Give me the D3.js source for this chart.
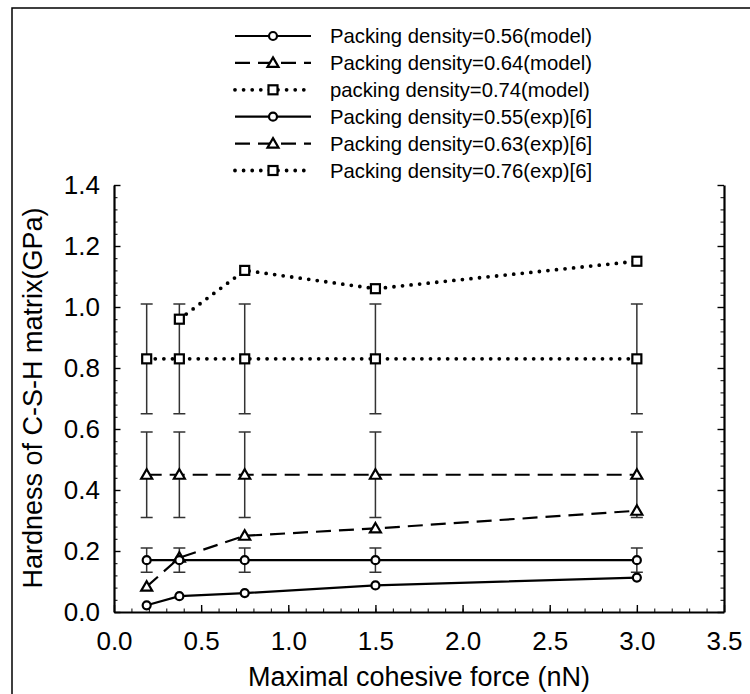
<!DOCTYPE html>
<html><head><meta charset="utf-8">
<script src="https://cdn.jsdelivr.net/npm/d3@7"></script>
<style>body{margin:0;background:#fff}svg{display:block}text{font-family:"Liberation Sans",Arial,sans-serif;fill:#000}</style>
</head><body><svg id="c" width="750" height="694"></svg>
<script>
const forces = [0.1875, 0.375, 0.75, 1.5, 3.0];
const forces074 = [0.375, 0.75, 1.5, 3.0];
const model056 = [0.022, 0.052, 0.062, 0.087, 0.113];
const model064 = [0.083, 0.178, 0.25, 0.274, 0.332];
const model074 = [0.96, 1.12, 1.06, 1.15];
const exp055 = [0.17, 0.17, 0.17, 0.17, 0.17];
const exp063 = [0.45, 0.45, 0.45, 0.45, 0.45];
const exp076 = [0.83, 0.83, 0.83, 0.83, 0.83];
const err055 = 0.04, err063 = 0.14, err076 = 0.18;
const xTicks = [0, 0.5, 1.0, 1.5, 2.0, 2.5, 3.0, 3.5];
const yTicks = [0, 0.2, 0.4, 0.6, 0.8, 1.0, 1.2, 1.4];
const legendLabels = ["Packing density=0.56(model)","Packing density=0.64(model)","packing density=0.74(model)","Packing density=0.55(exp)[6]","Packing density=0.63(exp)[6]","Packing density=0.76(exp)[6]"];

const svg = d3.select("#c");
const x = d3.scaleLinear([0, 3.5], [114, 724]);
const y = d3.scaleLinear([0, 1.4], [612, 185]);

// outer frame
svg.append("path").attr("d","M12,760V8H760").attr("fill","none").attr("stroke","#000").attr("stroke-width",1.5);

const styles = {
  solid:{dash:null,w:2.2,cap:"butt"},
  dashed:{dash:"15,8",w:2.2,cap:"butt"},
  dotted:{dash:"0,8.6",w:3.8,cap:"round"}
};
const series = [
  {xs:forces, ys:model056, st:"solid", mk:"circle"},
  {xs:forces, ys:model064, st:"dashed", mk:"triangle"},
  {xs:forces074, ys:model074, st:"dotted", mk:"square"},
  {xs:forces, ys:exp055, st:"solid", mk:"circle", err:err055},
  {xs:forces, ys:exp063, st:"dashed", mk:"triangle", err:err063},
  {xs:forces, ys:exp076, st:"dotted", mk:"square", err:err076}
];

// axes
const gA = svg.append("g");
function axisStyle(g){g.select(".domain").attr("stroke","#000").attr("stroke-width",2.2);g.selectAll(".tick line").attr("stroke","#000").attr("stroke-width",1.4);g.selectAll("text").style("font-size","26px").attr("fill","#000");}
const yMinor = d3.range(0, 1.4001, 0.04).map(v=>+v.toFixed(2));
const xMinor = d3.range(0, 3.5001, 0.1).map(v=>+v.toFixed(2));
gA.append("g").attr("transform","translate(114,0)").call(d3.axisLeft(y).tickValues(yMinor).tickSize(-3.5).tickFormat("")).call(g=>{g.select(".domain").remove();g.selectAll("line").attr("stroke","#000");});
gA.append("g").attr("transform","translate(724,0)").call(d3.axisRight(y).tickValues(yMinor).tickSize(-3.5).tickFormat("")).call(g=>{g.select(".domain").remove();g.selectAll("line").attr("stroke","#000");});
gA.append("g").attr("transform","translate(0,612)").call(d3.axisBottom(x).tickValues(xMinor).tickSize(-3.5).tickFormat("")).call(g=>{g.select(".domain").remove();g.selectAll("line").attr("stroke","#000");});
gA.append("g").attr("transform","translate(114,0)").call(d3.axisLeft(y).tickValues(yTicks).tickSize(-6.5).tickSizeOuter(0).tickPadding(14).tickFormat(d3.format(".1f"))).call(axisStyle);
gA.append("g").attr("transform","translate(724,0)").call(d3.axisRight(y).tickValues(yTicks).tickSize(-6.5).tickSizeOuter(0).tickFormat("")).call(axisStyle);
gA.append("g").attr("transform","translate(0,612)").call(d3.axisBottom(x).tickValues(xTicks).tickSize(-7).tickSizeOuter(0).tickPadding(20).tickFormat(d3.format(".1f"))).call(axisStyle);

svg.append("text").attr("x",419).attr("y",686).attr("text-anchor","middle").style("font-size","27px").text("Maximal cohesive force (nN)");
svg.append("text").attr("transform","translate(42,398) rotate(-90)").attr("text-anchor","middle").style("font-size","27px").text("Hardness of C-S-H matrix(GPa)");

// error bars
const gE = svg.append("g");
series.filter(s=>s.err).forEach(s=>{
  s.xs.forEach((xv,i)=>{
    const cx=x(xv), lo=y(s.ys[i]-s.err), hi=y(s.ys[i]+s.err);
    gE.append("path").attr("d",`M${cx},${lo}V${hi}M${cx-6},${lo}H${cx+6}M${cx-6},${hi}H${cx+6}`).attr("stroke","#333").attr("stroke-width",1.5).attr("fill","none");
  });
});

// lines
const line = d3.line().x(d=>x(d[0])).y(d=>y(d[1]));
series.forEach(s=>{
  const st=styles[s.st];
  svg.append("path").attr("d",line(s.xs.map((v,i)=>[v,s.ys[i]]))).attr("fill","none").attr("stroke","#000")
    .attr("stroke-width",st.w).attr("stroke-dasharray",st.dash).attr("stroke-linecap",st.cap);
});

// markers
function marker(g,mk,cx,cy){
  if(mk==="circle") g.append("circle").attr("cx",cx).attr("cy",cy).attr("r",4).attr("fill","#fff").attr("stroke","#000").attr("stroke-width",2.2);
  else if(mk==="square") g.append("rect").attr("x",cx-4.5).attr("y",cy-4.5).attr("width",9).attr("height",9).attr("fill","#fff").attr("stroke","#000").attr("stroke-width",2.2);
  else g.append("path").attr("d",`M${cx},${cy-5.5}L${cx+5.5},${cy+4}L${cx-5.5},${cy+4}Z`).attr("fill","#fff").attr("stroke","#000").attr("stroke-width",2.2);
}
const gM = svg.append("g");
series.forEach(s=>s.xs.forEach((xv,i)=>marker(gM,s.mk,x(xv),y(s.ys[i]))));

// legend
const gL = svg.append("g");
series.forEach((s,i)=>{
  const ly = 36 + i*26.9, st=styles[s.st];
  gL.append("line").attr("x1",235).attr("x2",311).attr("y1",ly).attr("y2",ly).attr("stroke","#000")
    .attr("stroke-width",st.w).attr("stroke-dasharray",st.dash).attr("stroke-linecap",st.cap);
  marker(gL,s.mk,273,ly);
  gL.append("text").attr("x",330).attr("y",ly).attr("dy","0.35em").style("font-size","20.3px").text(legendLabels[i]);
});
</script></body></html>
